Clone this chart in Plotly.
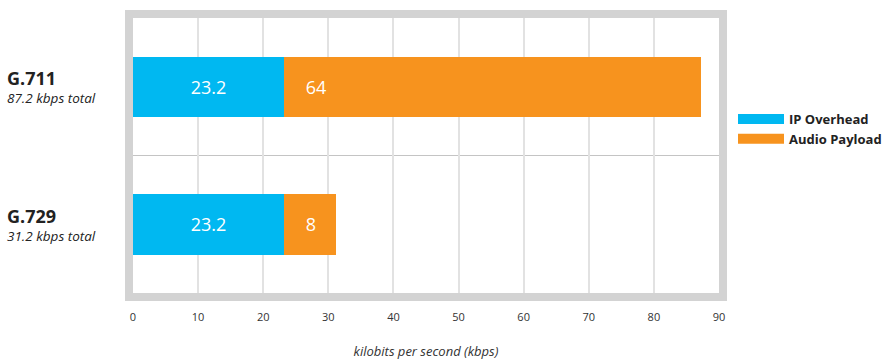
import plotly.graph_objects as go

# ---- data ----
codecs = ["G.711", "G.729"]
totals = ["87.2 kbps total", "31.2 kbps total"]
ip_overhead = [23.2, 23.2]
audio_payload = [64, 8]
series_names = ["IP Overhead", "Audio Payload"]
x_ticks = [0, 10, 20, 30, 40, 50, 60, 70, 80, 90]

BLUE = "#00B8F1"
ORANGE = "#F7931E"
FRAME = "#D3D3D3"
GRID = "#E2E2E2"
FONT = "Open Sans"
NB = "\u00a0"

fig = go.Figure()

fig.add_trace(go.Bar(
    y=codecs, x=ip_overhead, orientation="h", name=series_names[0],
    marker=dict(color=BLUE, line=dict(width=0)),
    text=[f"{v:g}" for v in ip_overhead], textposition="inside",
    insidetextanchor="middle", textangle=0, constraintext="none",
    insidetextfont=dict(family=FONT, size=18, color="white"),
    showlegend=False, hoverinfo="x+y",
))
fig.add_trace(go.Bar(
    y=codecs, x=audio_payload, orientation="h", name=series_names[1],
    marker=dict(color=ORANGE, line=dict(width=0)),
    text=[NB * 4 + f"{v:g}" for v in audio_payload], textposition="inside",
    insidetextanchor="start", textangle=0, constraintext="none",
    insidetextfont=dict(family=FONT, size=18, color="white"),
    showlegend=False, hoverinfo="x+y",
))

# legend entries (pill-like line swatches)
for name, col in zip(series_names, [BLUE, ORANGE]):
    fig.add_trace(go.Scatter(
        x=[None], y=[None], mode="lines", name=name,
        line=dict(color=col, width=12), showlegend=True,
    ))

# category labels (one text block per category)
LX = -(133 - 5) / 586
annos = []
for c, t in zip(codecs, totals):
    annos.append(dict(
        xref="paper", yref="y", x=LX, y=c, xanchor="left", yanchor="middle",
        yshift=0, showarrow=False, align="left",
        text=(f"<span style='font-size:18px'><b>{c}</b></span><br>"
              f"<span style='font-size:13.5px'><i>{t}</i></span>"),
        font=dict(family=FONT, size=14, color="#222222"),
    ))
fig.update_layout(annotations=annos)

# separator between categories
fig.add_shape(type="line", xref="paper", yref="y", x0=0, x1=1, y0=0.5, y1=0.5,
              line=dict(color="#C4C4C4", width=1), layer="below")

fig.update_layout(
    barmode="stack",
    bargap=0.56,
    width=888, height=360,
    margin=dict(l=133, r=169, t=18, b=67, autoexpand=False),
    paper_bgcolor="white", plot_bgcolor="white",
    font=dict(family=FONT, color="#333333"),
    legend=dict(
        xref="container", yref="container", traceorder="normal",
        x=733 / 888, y=1 - 104 / 360, xanchor="left", yanchor="top",
        font=dict(family=FONT, size=13, color="#222222", weight="bold"),
        bgcolor="rgba(0,0,0,0)", tracegroupgap=0, itemwidth=46,
    ),
    xaxis=dict(
        range=[0, 90], tickvals=x_ticks, ticktext=[str(v) for v in x_ticks],
        showgrid=True, gridcolor=GRID, gridwidth=2, zeroline=False,
        showline=True, linecolor=FRAME, linewidth=8, mirror=True,
        ticks="outside", ticklen=7, tickcolor="rgba(0,0,0,0)",
        tickfont=dict(family=FONT, size=11, color="#333333"),
        title=dict(text="<i>kilobits per second (kbps)</i>",
                   font=dict(family=FONT, size=13, color="#333333"), standoff=28),
        automargin=False, fixedrange=True,
    ),
    yaxis=dict(
        categoryorder="array", categoryarray=codecs, autorange="reversed",
        showticklabels=False, showgrid=False, zeroline=False,
        showline=True, linecolor=FRAME, linewidth=8, mirror=True,
        automargin=False, fixedrange=True,
    ),
)

fig.write_html("out.html")
